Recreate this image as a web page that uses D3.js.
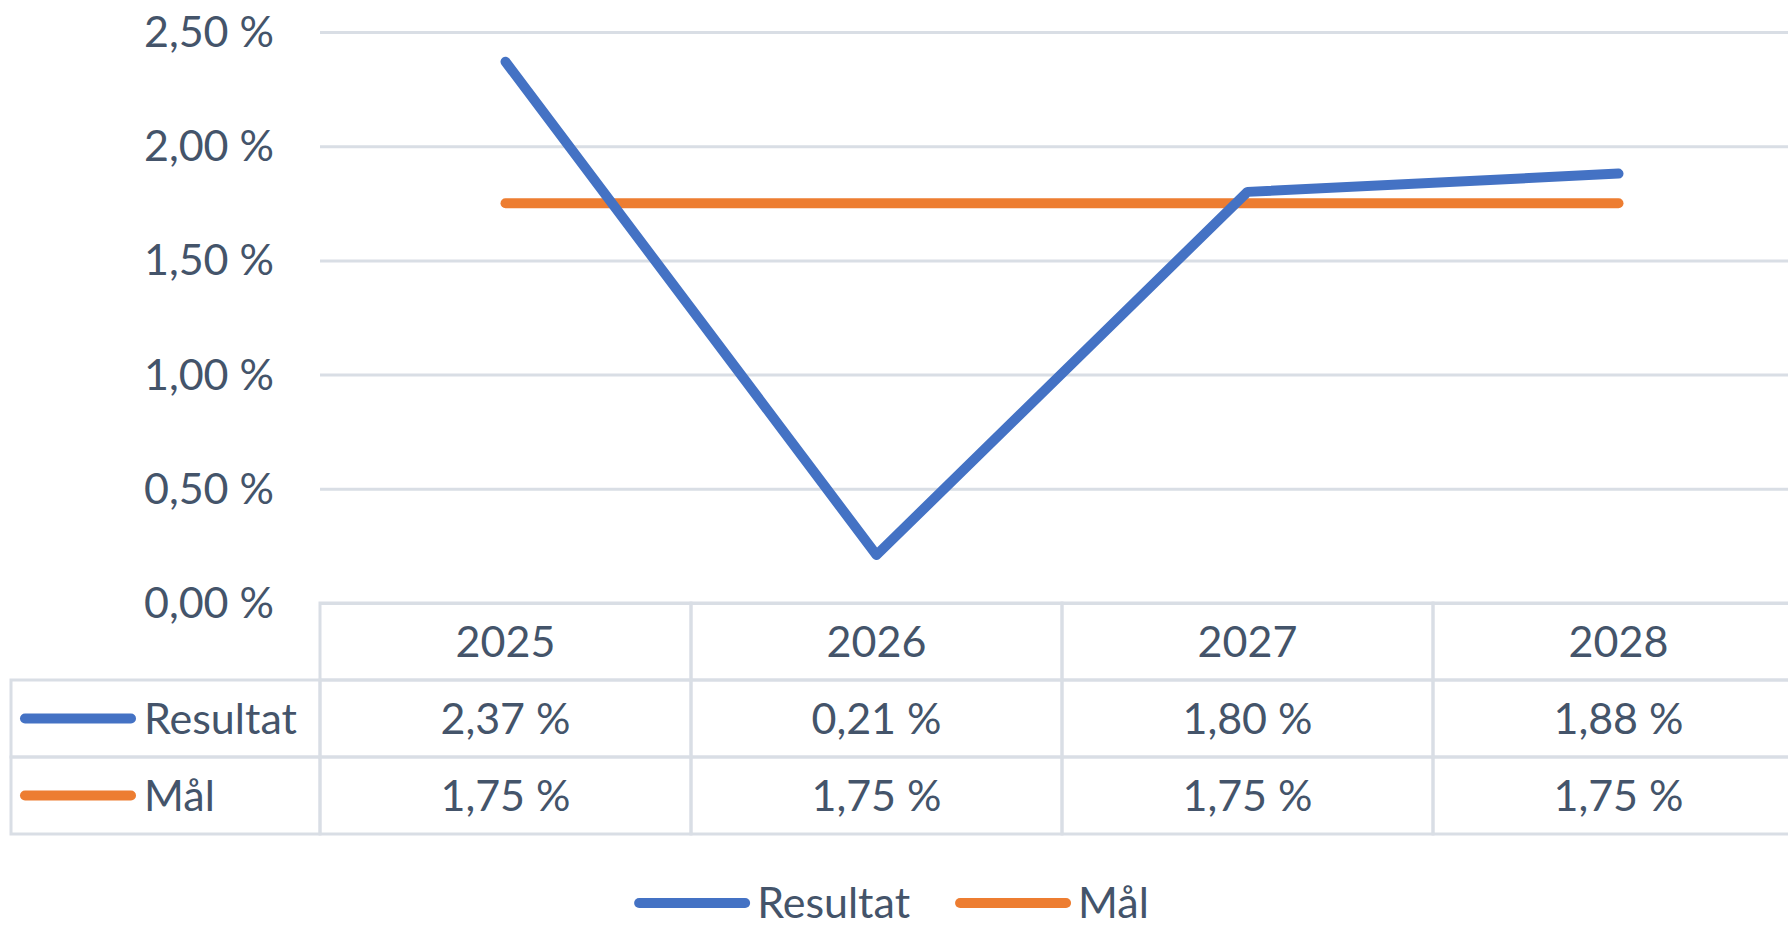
<!DOCTYPE html>
<html>
<head>
<meta charset="utf-8">
<script src="https://cdn.jsdelivr.net/npm/d3@7"></script>
<style>
    body { margin: 0; background: #fff; }
    svg { display: block; }
    text { font-family: Lato, "Open Sans", sans-serif; fill: #44546a; }
    .grid line { stroke: #d9dee5; stroke-width: 3; }
    .grid path { display: none; }
    .cell { stroke: #d9dee5; stroke-width: 3; fill: none; }
</style>
</head>
<body>
<svg id="chart" width="1788" height="928"></svg>
<script>
// Chart data
const years = ["2025", "2026", "2027", "2028"]
const resultat = [2.37, 0.21, 1.80, 1.88]
const maal = [1.75, 1.75, 1.75, 1.75]
const yTicks = [0, 0.5, 1, 1.5, 2, 2.5]

const series = [
    { name: "Resultat", values: resultat, color: "#4472c4" },
    { name: "Mål", values: maal, color: "#ed7d31" },
]

const ctx = {
    width: 1788,
    height: 928,
    left: 320,
    right: 1804,
    top: 32,
    bottom: 603,
    rowH: 77,
    tableLeft: 11,
    fontSize: 43,
}

// Swedish style number format: "2,37 %"
const locale = d3.formatLocale({ decimal: ",", thousands: " ", grouping: [3], currency: ["", " kr"] })
const fmt = v => locale.format(".2f")(v) + " %"

const svgEl = d3.select("#chart")

// Scales
ctx.x = d3.scaleBand().domain(years).range([ctx.left, ctx.right])
ctx.y = d3.scaleLinear().domain([0, 2.5]).range([ctx.bottom, ctx.top])

const drawGrid = () => {
    // Horizontal gridlines through the y axis
    const axis = d3.axisLeft(ctx.y)
        .tickValues(yTicks)
        .tickSize(-(ctx.right - ctx.left))
        .tickFormat("")
    svgEl.append("g")
        .attr("class", "grid")
        .attr("transform", `translate(${ctx.left},0)`)
        .call(axis)

    // Tick labels
    svgEl.append("g").selectAll("text")
        .data(yTicks)
        .enter()
        .append("text")
        .attr("x", ctx.left - 46)
        .attr("y", d => ctx.y(d))
        .attr("dy", "0.35em")
        .attr("text-anchor", "end")
        .style("font-size", ctx.fontSize + "px")
        .text(fmt)
}

const drawLines = () => {
    const line = d3.line()
        .x((d, i) => ctx.x(years[i]) + ctx.x.bandwidth() / 2)
        .y(d => ctx.y(d))

    svgEl.append("g").selectAll("path")
        .data(series.slice().reverse())
        .enter()
        .append("path")
        .attr("d", d => line(d.values))
        .attr("fill", "none")
        .attr("stroke", d => d.color)
        .attr("stroke-width", 10)
        .attr("stroke-linecap", "round")
        .attr("stroke-linejoin", "round")
}

const drawTable = () => {
    const g = svgEl.append("g").attr("id", "table")
    const headTop = ctx.bottom
    const bodyTop = headTop + ctx.rowH

    // Header cells
    g.selectAll("rect.head")
        .data(years)
        .enter()
        .append("rect")
        .attr("class", "cell")
        .attr("x", d => ctx.x(d))
        .attr("y", headTop)
        .attr("width", ctx.x.bandwidth())
        .attr("height", ctx.rowH)

    g.selectAll("text.head")
        .data(years)
        .enter()
        .append("text")
        .attr("x", d => ctx.x(d) + ctx.x.bandwidth() / 2)
        .attr("y", headTop + ctx.rowH / 2)
        .attr("dy", "0.35em")
        .attr("text-anchor", "middle")
        .style("font-size", ctx.fontSize + "px")
        .text(d => d)

    // Body rows
    series.forEach((s, r) => {
        const rowY = bodyTop + r * ctx.rowH
        g.append("rect")
            .attr("class", "cell")
            .attr("x", ctx.tableLeft)
            .attr("y", rowY)
            .attr("width", ctx.left - ctx.tableLeft)
            .attr("height", ctx.rowH)

        // Legend key inside the row header
        g.append("line")
            .attr("x1", ctx.tableLeft + 14)
            .attr("x2", ctx.tableLeft + 120)
            .attr("y1", rowY + ctx.rowH / 2)
            .attr("y2", rowY + ctx.rowH / 2)
            .attr("stroke", s.color)
            .attr("stroke-width", 10)
            .attr("stroke-linecap", "round")
        g.append("text")
            .attr("x", ctx.tableLeft + 133)
            .attr("y", rowY + ctx.rowH / 2)
            .attr("dy", "0.35em")
            .style("font-size", ctx.fontSize + "px")
            .text(s.name)

        g.selectAll(null)
            .data(s.values)
            .enter()
            .append("rect")
            .attr("class", "cell")
            .attr("x", (d, i) => ctx.x(years[i]))
            .attr("y", rowY)
            .attr("width", ctx.x.bandwidth())
            .attr("height", ctx.rowH)

        g.selectAll(null)
            .data(s.values)
            .enter()
            .append("text")
            .attr("x", (d, i) => ctx.x(years[i]) + ctx.x.bandwidth() / 2)
            .attr("y", rowY + ctx.rowH / 2)
            .attr("dy", "0.35em")
            .attr("text-anchor", "middle")
            .style("font-size", ctx.fontSize + "px")
            .text(fmt)
    })
}

const drawLegend = () => {
    const g = svgEl.append("g").attr("id", "legend")
    const items = g.selectAll("g")
        .data(series)
        .enter()
        .append("g")

    items.append("line")
        .attr("x1", 0).attr("x2", 106)
        .attr("stroke", d => d.color)
        .attr("stroke-width", 10)
        .attr("stroke-linecap", "round")
    items.append("text")
        .attr("x", 118)
        .attr("dy", "0.35em")
        .style("font-size", ctx.fontSize + "px")
        .text(d => d.name)

    // Lay out the items side by side and center them
    let offset = 0
    items.each(function () {
        const w = this.getBBox().width
        d3.select(this).attr("data-off", offset)
        offset += w + 50
    })
    const total = offset - 50
    const startX = ctx.width / 2 - total / 2
    items.attr("transform", function () {
        return `translate(${startX + (+this.getAttribute("data-off"))},903)`
    })
}

drawGrid()
drawTable()
drawLines()
drawLegend()
</script>
</body>
</html>
